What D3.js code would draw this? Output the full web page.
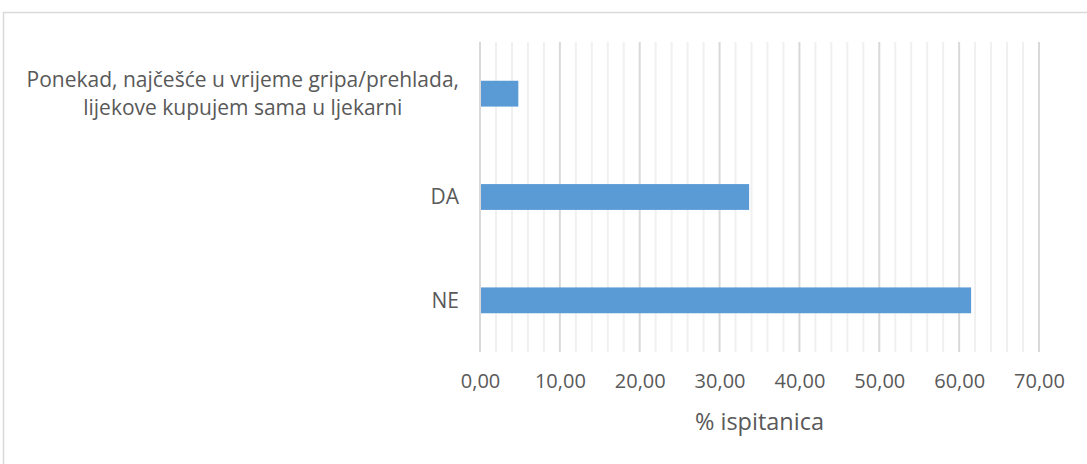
<!DOCTYPE html>
<html>
<head>
<meta charset="utf-8">
<script src="https://cdn.jsdelivr.net/npm/d3@7"></script>
<style>
  body { margin: 0; background: #fff; }
  svg text { font-family: "Open Sans", Lato, sans-serif; fill: #595959; }
</style>
</head>
<body>
<div id="chart"></div>
<script>
// categories top to bottom, each one a list of label lines
let categories = [
    ["Ponekad, najčešće u vrijeme gripa/prehlada,", "lijekove kupujem sama u ljekarni"],
    ["DA"],
    ["NE"]
];
let values = [4.8, 33.7, 61.5];
let majorTicks = [0, 10, 20, 30, 40, 50, 60, 70];
let minorTicks = d3.range(0, 71, 2);
let axisTitle = "% ispitanica";

let width = 1087, height = 464;
let margin = {top: 42, left: 480, right: 48, bottom: 112};

let svg = d3.select("#chart").append("svg")
    .attr("width", width)
    .attr("height", height);

// chart area border
svg.append("rect")
    .attr("x", 3.5).attr("y", 12.5)
    .attr("width", width + 20).attr("height", height + 20)
    .attr("fill", "none")
    .attr("stroke", "#d9d9d9")
    .attr("stroke-width", 1.5);

let x = d3.scaleLinear()
    .domain([0, 70])
    .range([margin.left, width - margin.right]);

let y = d3.scaleBand()
    .domain(d3.range(categories.length))
    .range([margin.top, height - margin.bottom])
    .paddingInner(0.75)
    .paddingOuter(0.375);

let grid = svg.append("g");
grid.selectAll("line.minor")
    .data(minorTicks.filter(d => d % 10 !== 0))
    .enter().append("line")
    .attr("class", "minor")
    .attr("x1", d => x(d)).attr("x2", d => x(d))
    .attr("y1", margin.top).attr("y2", height - margin.bottom)
    .attr("stroke", "#f0f0f0")
    .attr("stroke-width", 2);

grid.selectAll("line.major")
    .data(majorTicks)
    .enter().append("line")
    .attr("class", "major")
    .attr("x1", d => x(d)).attr("x2", d => x(d))
    .attr("y1", margin.top).attr("y2", height - margin.bottom)
    .attr("stroke", "#d9d9d9")
    .attr("stroke-width", 2);

svg.selectAll("rect.bar")
    .data(values)
    .enter().append("rect")
    .attr("class", "bar")
    .attr("x", x(0) + 1)
    .attr("y", (d, i) => y(i))
    .attr("width", d => x(d) - x(0) - 1)
    .attr("height", y.bandwidth())
    .attr("fill", "#5b9bd5");

// x axis labels
let xAxis = d3.axisBottom(x)
    .tickValues(majorTicks)
    .tickSize(0)
    .tickFormat(d => d3.format(".2f")(d).replace(".", ","));

svg.append("g")
    .attr("transform", "translate(0," + (height - margin.bottom + 19) + ")")
    .call(xAxis)
    .call(g => g.select(".domain").remove())
    .selectAll("text")
        .attr("font-size", 20)
        .attr("font-family", null)
        .attr("fill", null);

svg.append("text")
    .attr("x", (x(0) + x(70)) / 2)
    .attr("y", 430)
    .attr("text-anchor", "middle")
    .attr("font-size", 23.5)
    .text(axisTitle);

// category labels, lines centred on each other, right edge at labelRight
let labelRight = 459;
let lineHeight = 28;
categories.forEach((lines, i) => {
    let g = svg.append("g");
    let t = g.append("text")
        .attr("text-anchor", "middle")
        .attr("font-size", 21);
    lines.forEach((s, j) => {
        t.append("tspan")
            .attr("x", 0)
            .attr("y", (j - (lines.length - 1) / 2) * lineHeight)
            .attr("dy", "0.35em")
            .text(s);
    });
    let w = d3.max(t.selectAll("tspan").nodes(), n => n.getComputedTextLength());
    g.attr("transform", "translate(" + (labelRight - w / 2) + "," + (y(i) + y.bandwidth() / 2) + ")");
});
</script>
</body>
</html>
